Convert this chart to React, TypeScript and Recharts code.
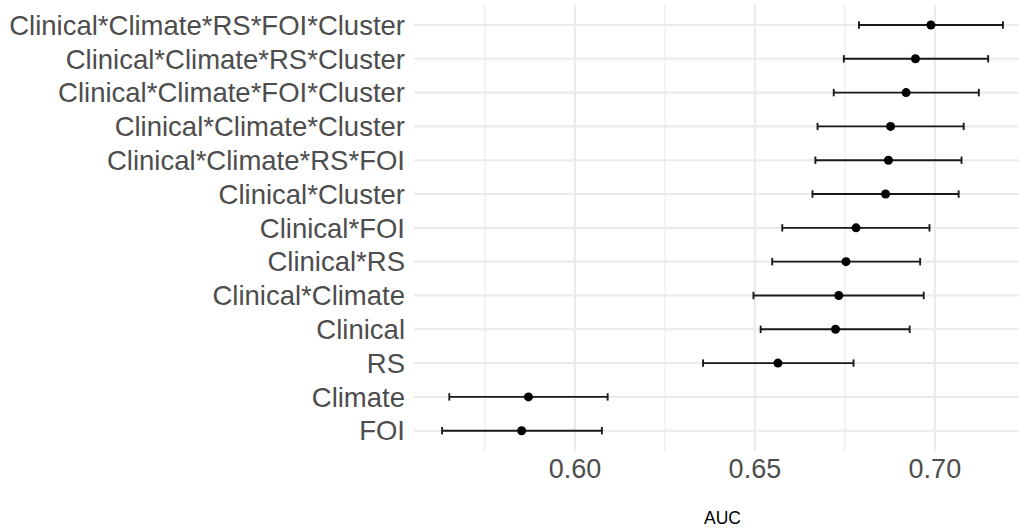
import React from "react"
import {
  ScatterChart,
  Scatter,
  XAxis,
  YAxis,
  ZAxis,
  CartesianGrid,
  ErrorBar,
  ReferenceLine,
} from "recharts"

// models listed top to bottom, as in the figure
const models = [
  "Clinical*Climate*RS*FOI*Cluster",
  "Clinical*Climate*RS*Cluster",
  "Clinical*Climate*FOI*Cluster",
  "Clinical*Climate*Cluster",
  "Clinical*Climate*RS*FOI",
  "Clinical*Cluster",
  "Clinical*FOI",
  "Clinical*RS",
  "Clinical*Climate",
  "Clinical",
  "RS",
  "Climate",
  "FOI",
]
const auc = [0.6989, 0.6946, 0.692, 0.6877, 0.6871, 0.6863, 0.6781, 0.6753, 0.6733, 0.6724, 0.6564, 0.5871, 0.5852]
const lower = [0.6789, 0.6747, 0.6719, 0.6674, 0.6668, 0.666, 0.6576, 0.6548, 0.6496, 0.6516, 0.6356, 0.5651, 0.5631]
const upper = [0.7189, 0.7148, 0.7122, 0.708, 0.7074, 0.7066, 0.6985, 0.6959, 0.6969, 0.693, 0.6774, 0.6091, 0.6075]

const majorTicks = [0.6, 0.65, 0.7]
const minorTicks = [0.575, 0.625, 0.675, 0.725]

const n = models.length
const rows = models.map((m, i) => ({
  model: m,
  pos: n - i,
  auc: auc[i],
  err: [auc[i] - lower[i], upper[i] - auc[i]],
}))
const yTicks = rows.map((r) => r.pos)

export default function App() {
  return (
    <div
      style={{
        position: "absolute",
        left: 0,
        top: 0,
        width: 1019,
        height: 529,
        overflow: "hidden",
        background: "#fff",
        fontFamily: "'Liberation Sans', Arial, sans-serif",
      }}
    >
      <ScatterChart width={1031} height={529} margin={{ top: 4.7, right: 0, bottom: 0, left: 0 }}>
        <CartesianGrid stroke="#ebebeb" strokeWidth={2.1} syncWithTicks />
        {/* minor vertical grid */}
        {minorTicks.map((v) => (
          <ReferenceLine key={v} x={v} stroke="#ebebeb" strokeWidth={1.1} />
        ))}
        <XAxis
          type="number"
          dataKey="auc"
          domain={[0.5553, 0.7267]}
          allowDataOverflow
          ticks={majorTicks}
          tickFormatter={(v: number) => v.toFixed(2)}
          tick={{ fontSize: 27, fill: "#4d4d4d" }}
          tickLine={false}
          axisLine={false}
          height={78}
          label={{ value: "AUC", position: "insideBottom", offset: 5, fontSize: 17.5, fill: "#000" }}
        />
        <YAxis
          type="number"
          dataKey="pos"
          domain={[0.4, n + 0.6]}
          ticks={yTicks}
          interval={0}
          tickFormatter={(v: number) => models[n - v]}
          tick={{ fontSize: 27.5, fill: "#4d4d4d" }}
          tickLine={false}
          axisLine={false}
          tickSize={6}
          tickMargin={3}
          width={414}
        />
        <ZAxis range={[48, 48]} />
        <Scatter data={rows} fill="#000" isAnimationActive={false}>
          <ErrorBar
            dataKey="err"
            direction="x"
            stroke="#1a1a1a"
            strokeWidth={1.9}
            width={3.7}
            isAnimationActive={false}
          />
        </Scatter>
      </ScatterChart>
    </div>
  )
}
